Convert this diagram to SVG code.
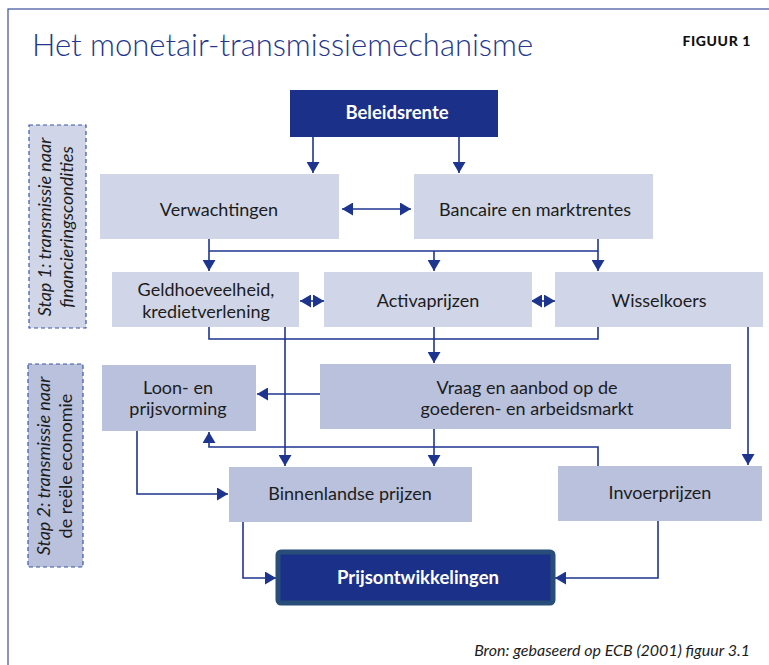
<svg xmlns="http://www.w3.org/2000/svg" width="769" height="665" viewBox="0 0 769 665">
<style>
.frame{fill:#ffffff;stroke:#3a4e9e;stroke-width:1.2}
.light{fill:#d0d6e7}
.mid{fill:#b9c1dd}
.dark{fill:#1b3088}
.lbl{font-family:Lato,"Open Sans","Liberation Sans",sans-serif;font-size:18px;fill:#1c1c1c;text-anchor:middle}
.wlbl{font-family:Lato,"Open Sans","Liberation Sans",sans-serif;font-size:18.5px;font-weight:bold;fill:#ffffff;text-anchor:middle}
.step{stroke:#3a56a5;stroke-width:1.2;stroke-dasharray:4 3}
.steptxt{font-family:Lato,"Open Sans","Liberation Sans",sans-serif;font-size:18px;fill:#1c1c1c;text-anchor:middle}
.conn path{fill:none;stroke:#1e3590;stroke-width:1.6}
</style>
<defs>
<marker id="ah" markerUnits="userSpaceOnUse" markerWidth="12" markerHeight="13" viewBox="0 0 11 13" refX="11" refY="6.5" orient="auto-start-reverse">
<path d="M0,0 L11,6.5 L0,13 z" fill="#1e3590"/>
</marker>
</defs>
<rect class="frame" x="8" y="9" width="780" height="680"/>
<text x="32" y="56" font-family="Lato,'Open Sans','Liberation Sans',sans-serif" font-size="31" font-weight="300" fill="#24378c">Het monetair-transmissiemechanisme</text>
<text x="751" y="46" font-family="Lato,'Liberation Sans',sans-serif" font-size="14" font-weight="900" letter-spacing="0.6" fill="#111" text-anchor="end">FIGUUR 1</text>

<g id="stap1">
<rect class="light step" x="29" y="125" width="57" height="203"/>
<text class="steptxt" transform="translate(51,227) rotate(-90)" font-style="italic">Stap 1: transmissie naar</text>
<text class="steptxt" transform="translate(73,227) rotate(-90)" font-style="italic">financieringscondities</text>
</g>
<g id="stap2">
<rect class="mid step" x="28" y="364" width="55" height="203"/>
<text class="steptxt" transform="translate(50,466) rotate(-90)" font-style="italic">Stap 2: transmissie naar</text>
<text class="steptxt" transform="translate(72,466) rotate(-90)">de reële economie</text>
</g>

<g class="conn" id="connectors">
<path d="M313 137 V173" marker-end="url(#ah)"/>
<path d="M459 137 V173" marker-end="url(#ah)"/>
<path d="M342 209 H411" marker-start="url(#ah)" marker-end="url(#ah)"/>
<path d="M209 239 V271" marker-end="url(#ah)"/>
<path d="M209 251 H598"/>
<path d="M598 239 V271" marker-end="url(#ah)"/>
<path d="M434 251 V271" marker-end="url(#ah)"/>
<path d="M300 301 H324" marker-start="url(#ah)" marker-end="url(#ah)"/>
<path d="M531 301 H555" marker-start="url(#ah)" marker-end="url(#ah)"/>
<path d="M209 327 V339 H598 V327"/>
<path d="M434 327 V363" marker-end="url(#ah)"/>
<path d="M285 327 V466" marker-end="url(#ah)"/>
<path d="M748 327 V465" marker-end="url(#ah)"/>
<path d="M320 394 H257" marker-end="url(#ah)"/>
<path d="M434 429 V466" marker-end="url(#ah)"/>
<path d="M598 466 V447 H209 V432" marker-end="url(#ah)"/>
<path d="M137 431 V494 H228" marker-end="url(#ah)"/>
<path d="M243 522 V578 H276" marker-end="url(#ah)"/>
<path d="M658 521 V578 H555" marker-end="url(#ah)"/>
</g>

<g id="beleidsrente">
<rect class="dark" x="290" y="90" width="208" height="47"/>
<text class="wlbl" x="397" y="119">Beleidsrente</text>
</g>
<g id="verwachtingen">
<rect class="light" x="100" y="174" width="239" height="65"/>
<text class="lbl" x="219" y="216">Verwachtingen</text>
</g>
<g id="bancaire">
<rect class="light" x="414" y="174" width="239" height="65"/>
<text class="lbl" x="535" y="216">Bancaire en marktrentes</text>
</g>
<g id="geldhoeveelheid">
<rect class="light" x="112" y="272" width="187" height="55"/>
<text class="lbl" x="206" y="296">Geldhoeveelheid,</text>
<text class="lbl" x="206" y="318">kredietverlening</text>
</g>
<g id="activaprijzen">
<rect class="light" x="324" y="272" width="208" height="55"/>
<text class="lbl" x="428" y="307">Activaprijzen</text>
</g>
<g id="wisselkoers">
<rect class="light" x="555" y="272" width="208" height="55"/>
<text class="lbl" x="659" y="307">Wisselkoers</text>
</g>
<g id="loonvorming">
<rect class="mid" x="102" y="365" width="154" height="66"/>
<text class="lbl" x="178" y="394">Loon- en</text>
<text class="lbl" x="178" y="415">prijsvorming</text>
</g>
<g id="vraagaanbod">
<rect class="mid" x="320" y="364" width="411" height="65"/>
<text class="lbl" x="527" y="394">Vraag en aanbod op de</text>
<text class="lbl" x="527" y="415">goederen- en arbeidsmarkt</text>
</g>
<g id="binnenlandse">
<rect class="mid" x="229" y="467" width="243" height="55"/>
<text class="lbl" x="350" y="500">Binnenlandse prijzen</text>
</g>
<g id="invoerprijzen">
<rect class="mid" x="558" y="466" width="204" height="55"/>
<text class="lbl" x="660" y="499">Invoerprijzen</text>
</g>
<g id="prijsontwikkelingen">
<rect x="278" y="552" width="275" height="51" rx="3" fill="#1b3088" stroke="#294d79" stroke-width="5"/>
<text class="wlbl" x="418" y="584" font-size="19">Prijsontwikkelingen</text>
</g>
<text x="750" y="656" font-family="Lato,'Open Sans','Liberation Sans',sans-serif" font-size="16" font-style="italic" fill="#1c1c1c" text-anchor="end">Bron: gebaseerd op ECB (2001) figuur 3.1</text>
</svg>
